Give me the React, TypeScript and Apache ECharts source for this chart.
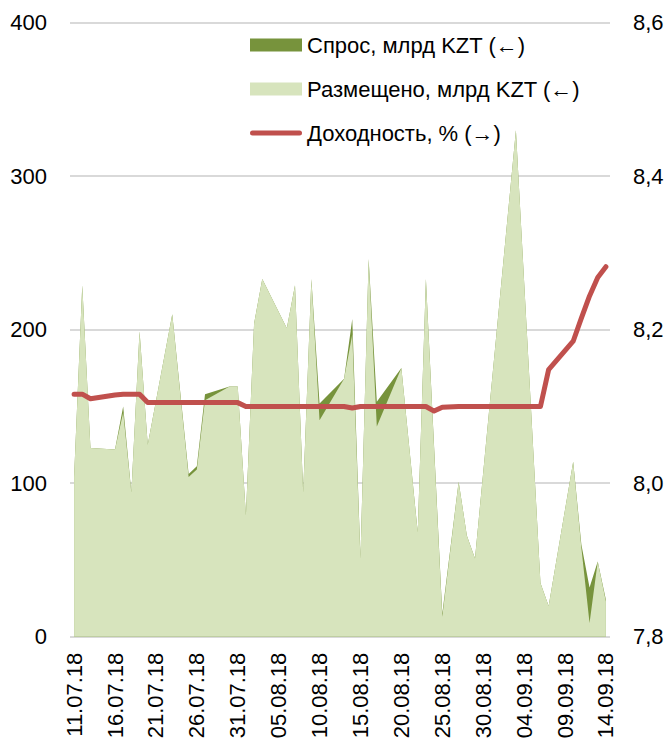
import React, { useEffect, useRef } from "react";
import * as echarts from "echarts";

const categories = [
  "11.07.18", "12.07.18", "13.07.18", "14.07.18", "15.07.18", "16.07.18", "17.07.18", "18.07.18", "19.07.18", "20.07.18",
  "21.07.18", "22.07.18", "23.07.18", "24.07.18", "25.07.18", "26.07.18", "27.07.18", "28.07.18", "29.07.18", "30.07.18",
  "31.07.18", "01.08.18", "02.08.18", "03.08.18", "04.08.18", "05.08.18", "06.08.18", "07.08.18", "08.08.18", "09.08.18",
  "10.08.18", "11.08.18", "12.08.18", "13.08.18", "14.08.18", "15.08.18", "16.08.18", "17.08.18", "18.08.18", "19.08.18",
  "20.08.18", "21.08.18", "22.08.18", "23.08.18", "24.08.18", "25.08.18", "26.08.18", "27.08.18", "28.08.18", "29.08.18",
  "30.08.18", "31.08.18", "01.09.18", "02.09.18", "03.09.18", "04.09.18", "05.09.18", "06.09.18", "07.09.18", "08.09.18",
  "09.09.18", "10.09.18", "11.09.18", "12.09.18", "13.09.18", "14.09.18",
];

// Спрос, млрд KZT
const demand = [
  104, 229, 123, null, null, 122, 150, 94, 199, 125,
  null, null, 210, null, 106, 111, 158, null, null, 163,
  163, 79, 204, 233, null, null, 201, 229, 94, 233,
  152, null, null, 168, 207, 51, 246, 153, null, null,
  175, null, 68, 233, null, 15, null, 101, 66, 51,
  null, null, null, null, 330, null, null, 35, 20, null,
  null, 114, 60, 32, 49, 24,
];

// Размещено, млрд KZT
const placed = [
  104, 229, 123, null, null, 122, 146, 94, 199, 125,
  null, null, 210, null, 104, 109, 154, null, null, 163,
  163, 79, 204, 233, null, null, 201, 229, 94, 233,
  141, null, null, 168, 197, 51, 246, 137, null, null,
  175, null, 68, 233, null, 13, null, 101, 66, 51,
  null, null, null, null, 330, null, null, 35, 20, null,
  null, 114, 58, 9, 49, 23,
];

// Доходность, %
const yieldPct = [
  8.116, 8.116, 8.11, null, null, 8.115, 8.116, 8.116, 8.116, 8.105,
  null, null, 8.105, null, 8.105, 8.105, 8.105, null, null, 8.105,
  8.105, 8.1, 8.1, 8.1, null, null, 8.1, 8.1, 8.1, 8.1,
  8.1, null, null, 8.1, 8.098, 8.1, 8.1, 8.1, null, null,
  8.1, null, 8.1, 8.1, 8.094, 8.099, null, 8.1, 8.1, 8.1,
  null, null, null, null, 8.1, null, null, 8.1, 8.148, null,
  null, 8.185, 8.215, 8.244, 8.268, 8.282,
];

const leftTicks = { min: 0, max: 400, interval: 100 };
const rightTicks = { min: 7.8, max: 8.6, interval: 0.2 };

const seriesNames = ["Спрос, млрд KZT (←)", "Размещено, млрд KZT (←)", "Доходность, % (→)"];

const FONT = "'Liberation Sans', Arial, sans-serif";
const FS = 22;
const DARK = "#77933C";
const LIGHT = "#D7E4BD";
const RED = "#C0504D";
const GRID = "#D9D9D9";

export default function App() {
  const ref = useRef<HTMLDivElement>(null);

  useEffect(() => {
    if (!ref.current) return;
    const chart = echarts.init(ref.current, undefined, { renderer: "svg" });
    chart.setOption({
      animation: false,
      backgroundColor: "#ffffff",
      textStyle: { fontFamily: FONT },
      grid: {
        left: 70,
        right: 59,
        top: 22.7,
        bottom: 102.3,
        containLabel: false,
        outerBoundsMode: "none",
      },
      legend: {
        orient: "vertical",
        left: 250,
        top: 34,
        padding: 0,
        itemWidth: 52,
        itemHeight: 13,
        itemGap: 22,
        textStyle: { fontFamily: FONT, fontSize: FS, color: "#000", lineHeight: 22 },
        data: [
          { name: seriesNames[0], icon: "rect", itemStyle: { color: DARK } },
          { name: seriesNames[1], icon: "rect", itemStyle: { color: LIGHT } },
          {
            name: seriesNames[2],
            icon: "path://M0,0 M52,13 M2.5,4 L49.5,4 A2.5,2.5 0 0 1 49.5,9 L2.5,9 A2.5,2.5 0 0 1 2.5,4 Z",
            itemStyle: { color: RED },
          },
        ],
      },
      xAxis: {
        type: "category",
        data: categories,
        boundaryGap: true,
        axisLine: { show: false },
        axisTick: { show: false },
        axisLabel: {
          interval: 4,
          rotate: 90,
          margin: 16,
          fontFamily: FONT,
          fontSize: FS,
          color: "#000",
        },
        splitLine: { show: false },
      },
      yAxis: [
        {
          type: "value",
          min: leftTicks.min,
          max: leftTicks.max,
          interval: leftTicks.interval,
          axisLine: { show: false },
          axisTick: { show: false },
          axisLabel: { margin: 23, fontFamily: FONT, fontSize: FS, color: "#000" },
          splitLine: { show: true, lineStyle: { color: GRID, width: 2 } },
        },
        {
          type: "value",
          min: rightTicks.min,
          max: rightTicks.max,
          interval: rightTicks.interval,
          position: "right",
          axisLine: { show: false },
          axisTick: { show: false },
          axisLabel: {
            margin: 23,
            fontFamily: FONT,
            fontSize: FS,
            color: "#000",
            formatter: (v: number) => v.toFixed(1).replace(".", ","),
          },
          splitLine: { show: false },
        },
      ],
      series: [
        {
          name: seriesNames[0],
          type: "line",
          data: demand,
          connectNulls: true,
          symbol: "none",
          color: DARK,
          lineStyle: { width: 0, opacity: 0 },
          areaStyle: { color: DARK, opacity: 1 },
          z: 1,
        },
        {
          name: seriesNames[1],
          type: "line",
          data: placed,
          connectNulls: true,
          symbol: "none",
          color: LIGHT,
          lineStyle: { width: 0, opacity: 0 },
          areaStyle: { color: LIGHT, opacity: 1 },
          z: 2,
        },
        {
          name: seriesNames[2],
          type: "line",
          yAxisIndex: 1,
          data: yieldPct,
          connectNulls: true,
          symbol: "none",
          color: RED,
          lineStyle: { width: 5, color: RED, cap: "round", join: "round" },
          z: 3,
        },
      ],
    });
    return () => chart.dispose();
  }, []);

  return (
    <div
      ref={ref}
      style={{ position: "absolute", left: 0, top: 0, width: 669, height: 739 }}
    />
  );
}
